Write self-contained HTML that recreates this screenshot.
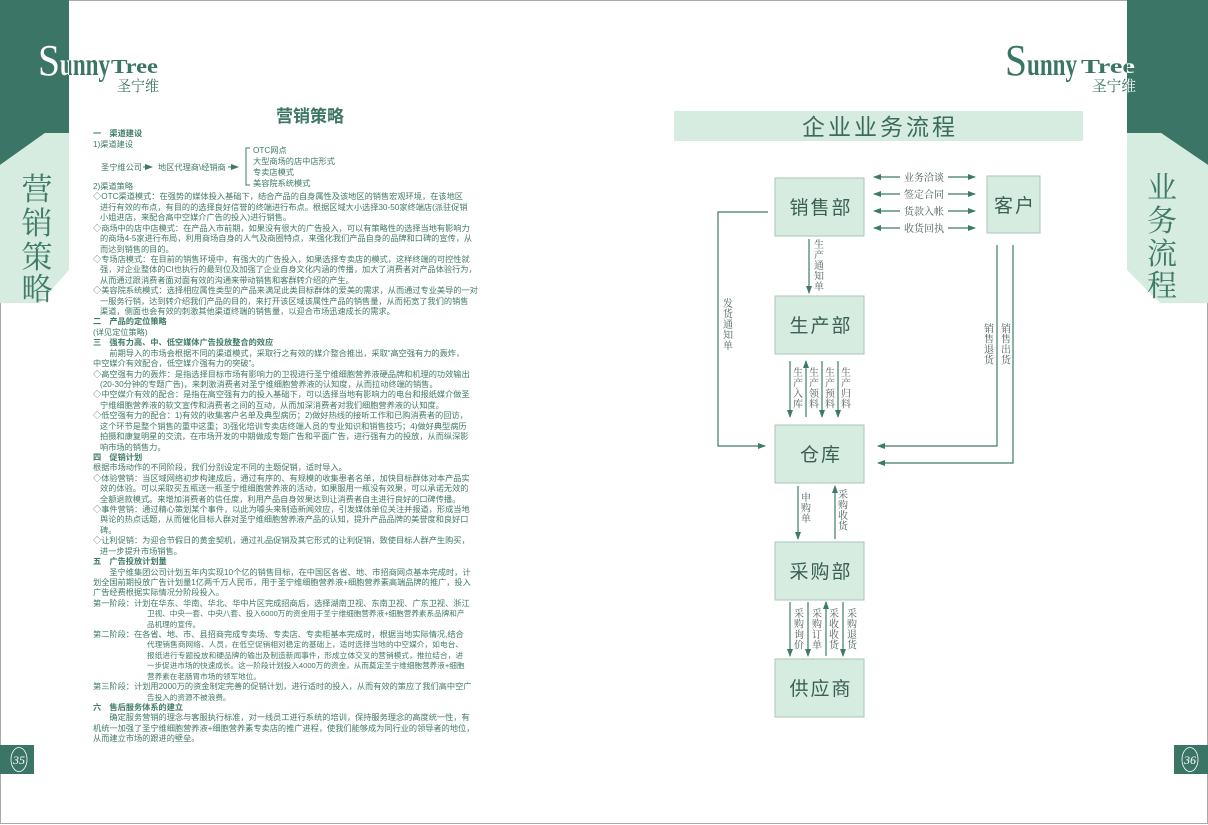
<!DOCTYPE html>
<html><head><meta charset="utf-8">
<style>
html,body{margin:0;padding:0;background:#fff;}
#pg{position:relative;width:1208px;height:825px;overflow:hidden;background:#fff;font-family:"Liberation Sans","Noto Sans CJK SC",sans-serif;}
.t{position:absolute;left:93px;width:370px;font-size:8.2px;line-height:10.42px;height:10.42px;color:#3f7a68;white-space:nowrap;}
.i{left:100px;width:363px;}
.s{left:147px;width:316px;font-size:7.6px;}
.j{text-align:justify;text-align-last:justify;}
.h{font-weight:bold;}
</style></head><body><div id="pg">
<svg width="1208" height="825" style="position:absolute;left:0;top:0" xmlns="http://www.w3.org/2000/svg">
<defs>
<marker id="a" markerWidth="8" markerHeight="8" refX="7" refY="4" orient="auto" markerUnits="userSpaceOnUse"><path d="M0,1 L8,4 L0,7 Z" fill="#3d7a6a"/></marker>
<clipPath id="cr"><rect x="1127" y="0" width="81" height="133"/></clipPath>
<clipPath id="cl"><rect x="0" y="0" width="69" height="133"/></clipPath>
<g id="lgL">
<text x="38" y="75" font-size="44" font-family="Liberation Serif,serif" textLength="22" lengthAdjust="spacingAndGlyphs">S</text>
<text x="60" y="75" font-size="32" font-weight="bold" font-family="Liberation Serif,serif" textLength="50" lengthAdjust="spacingAndGlyphs">unny</text>
<text x="111" y="73" font-size="20" font-weight="bold" font-family="Liberation Serif,serif" textLength="47" lengthAdjust="spacingAndGlyphs">Tree</text>
<text x="117" y="91" font-size="15" font-family="Noto Serif CJK SC,serif" textLength="42" lengthAdjust="spacingAndGlyphs">圣宁维</text>
</g>
<g id="lgR">
<text x="1005" y="75" font-size="44" font-family="Liberation Serif,serif" textLength="22" lengthAdjust="spacingAndGlyphs">S</text>
<text x="1027" y="75" font-size="32" font-weight="bold" font-family="Liberation Serif,serif" textLength="50" lengthAdjust="spacingAndGlyphs">unny</text>
<text x="1081" y="73" font-size="20" font-weight="bold" font-family="Liberation Serif,serif" textLength="54" lengthAdjust="spacingAndGlyphs">Tree</text>
<text x="1092" y="91" font-size="15" font-family="Noto Serif CJK SC,serif" textLength="44" lengthAdjust="spacingAndGlyphs">圣宁维</text>
</g>
</defs>
<rect x="0.5" y="0.5" width="1207" height="823" fill="none" stroke="#aaa"/>
<polygon points="0,0 69,0 69,133 45,133 0,165" fill="#3a7565"/>
<polygon points="0,165 45,133 69,133 69,270 40,303 0,303" fill="#d7ece1"/>
<text x="37" y="200" font-size="31" fill="#3f7a68" text-anchor="middle" font-family="Noto Serif CJK SC,serif">营</text>
<text x="37" y="234" font-size="31" fill="#3f7a68" text-anchor="middle" font-family="Noto Serif CJK SC,serif">销</text>
<text x="37" y="268" font-size="31" fill="#3f7a68" text-anchor="middle" font-family="Noto Serif CJK SC,serif">策</text>
<text x="37" y="300" font-size="31" fill="#3f7a68" text-anchor="middle" font-family="Noto Serif CJK SC,serif">略</text>
<polygon points="1127,0 1208,0 1208,165 1161,133 1127,133" fill="#3a7565"/>
<polygon points="1127,133 1161,133 1208,165 1208,303 1160,303 1127,270" fill="#d7ece1"/>
<text x="1162" y="198" font-size="30" fill="#3f7a68" text-anchor="middle" font-family="Noto Serif CJK SC,serif">业</text>
<text x="1162" y="231" font-size="30" fill="#3f7a68" text-anchor="middle" font-family="Noto Serif CJK SC,serif">务</text>
<text x="1162" y="264" font-size="30" fill="#3f7a68" text-anchor="middle" font-family="Noto Serif CJK SC,serif">流</text>
<text x="1162" y="296" font-size="30" fill="#3f7a68" text-anchor="middle" font-family="Noto Serif CJK SC,serif">程</text>
<use href="#lgL" fill="#3a7565"/>
<use href="#lgL" fill="#fff" clip-path="url(#cl)"/>
<use href="#lgR" fill="#3a7565"/>
<use href="#lgR" fill="#fff" clip-path="url(#cr)"/>
<text x="310" y="122" font-size="17" font-weight="bold" fill="#3a7565" text-anchor="middle">营销策略</text>
<rect x="674" y="111" width="409" height="30" fill="#d7ece1"/>
<text x="880" y="135" font-size="23" fill="#3a6b5d" text-anchor="middle" letter-spacing="3">企业业务流程</text>
<g font-size="8.2" fill="#3f7a68" font-family="Liberation Sans,Noto Sans CJK SC,sans-serif">
<text x="101" y="170">圣宁维公司</text>
<line x1="143" y1="167" x2="152" y2="167" stroke="#3f7a68" marker-end="url(#a)"/>
<text x="158" y="170">地区代理商\经销商</text>
<line x1="228" y1="167" x2="238" y2="167" stroke="#3f7a68" marker-end="url(#a)"/>
<path d="M250,148 L246,148 L246,185 L250,185" fill="none" stroke="#3f7a68"/>
<text x="253" y="153">OTC网点</text>
<text x="253" y="164">大型商场的店中店形式</text>
<text x="253" y="175">专卖店模式</text>
<text x="253" y="186">美容院系统模式</text>
</g>
<g fill="#d7ece1" stroke="#aac6b8" stroke-width="1">
<rect x="775" y="178" width="89" height="58"/>
<rect x="987" y="176" width="53" height="57"/>
<rect x="775" y="296" width="89" height="58"/>
<rect x="775" y="425" width="89" height="58"/>
<rect x="775" y="542" width="89" height="58"/>
<rect x="775" y="659" width="89" height="58"/>
</g>
<g font-size="19" fill="#3b5f55" text-anchor="middle" letter-spacing="2">
<text x="821" y="214">销售部</text>
<text x="1015" y="212">客户</text>
<text x="821" y="332">生产部</text>
<text x="821" y="461">仓库</text>
<text x="821" y="578">采购部</text>
<text x="821" y="695">供应商</text>
</g>
<g stroke="#3d7a6a" stroke-width="1.2" fill="none">
<line x1="900" y1="177" x2="874" y2="177" marker-end="url(#a)"/><line x1="948" y1="177" x2="975" y2="177" marker-end="url(#a)"/>
<line x1="900" y1="194" x2="874" y2="194" marker-end="url(#a)"/><line x1="948" y1="194" x2="975" y2="194" marker-end="url(#a)"/>
<line x1="900" y1="211" x2="874" y2="211" marker-end="url(#a)"/><line x1="948" y1="211" x2="975" y2="211" marker-end="url(#a)"/>
<line x1="900" y1="228" x2="874" y2="228" marker-end="url(#a)"/><line x1="948" y1="228" x2="975" y2="228" marker-end="url(#a)"/>
<line x1="809" y1="239" x2="809" y2="293" marker-end="url(#a)"/>
<polyline points="768,212 718,212 718,446 765,446" marker-end="url(#a)"/>
<polyline points="997,245 997,446 878,446" marker-end="url(#a)"/>
<polyline points="1013,245 1013,463 878,463" marker-end="url(#a)"/>
<line x1="790" y1="361" x2="790" y2="417" marker-end="url(#a)"/>
<line x1="806" y1="417" x2="806" y2="361" marker-end="url(#a)"/>
<line x1="822" y1="361" x2="822" y2="417" marker-end="url(#a)"/>
<line x1="838" y1="361" x2="838" y2="417" marker-end="url(#a)"/>
<line x1="798" y1="486" x2="798" y2="539" marker-end="url(#a)"/>
<line x1="835" y1="539" x2="835" y2="486" marker-end="url(#a)"/>
<line x1="790" y1="602" x2="790" y2="656" marker-end="url(#a)"/>
<line x1="808" y1="602" x2="808" y2="656" marker-end="url(#a)"/>
<line x1="826" y1="656" x2="826" y2="602" marker-end="url(#a)"/>
<line x1="843" y1="602" x2="843" y2="656" marker-end="url(#a)"/>
</g>
<g font-size="10" fill="#4a5f58" font-family="Noto Serif CJK SC,serif">
<text x="924" y="181" text-anchor="middle">业务洽谈</text>
<text x="924" y="198" text-anchor="middle">签定合同</text>
<text x="924" y="215" text-anchor="middle">货款入帐</text>
<text x="924" y="232" text-anchor="middle">收货回执</text>
</g>
<g font-size="10" fill="#4a5f58" font-family="Noto Serif CJK SC,serif" style="writing-mode:vertical-rl" letter-spacing="0.5">
<text x="819" y="239">生产通知单</text>
<text x="728" y="298">发货通知单</text>
<text x="989" y="323">销售退货</text>
<text x="1006" y="323">销售出货</text>
<text x="798" y="367">生产入库</text>
<text x="814" y="367">生产领料</text>
<text x="830" y="367">生产预料</text>
<text x="846" y="367">生产归料</text>
<text x="806" y="492">申购单</text>
<text x="843" y="489">采购收货</text>
<text x="799" y="608">采购询价</text>
<text x="817" y="608">采购订单</text>
<text x="834" y="608">采收收货</text>
<text x="852" y="608">采购退货</text>
</g>
<rect x="0" y="745" width="34" height="29" fill="#3a7565"/>
<ellipse cx="19" cy="759.5" rx="8" ry="12" fill="none" stroke="#fff" stroke-width="0.8"/>
<text x="19" y="764" font-size="12" fill="#fff" text-anchor="middle" font-style="italic" font-family="Liberation Serif,serif">35</text>
<rect x="1174" y="745" width="34" height="29" fill="#3a7565"/>
<ellipse cx="1190" cy="759.5" rx="8" ry="12" fill="none" stroke="#fff" stroke-width="0.8"/>
<text x="1190" y="764" font-size="12" fill="#fff" text-anchor="middle" font-style="italic" font-family="Liberation Serif,serif">36</text>
</svg>

<div class="t h" style="top:129px">一　渠道建设</div>
<div class="t" style="top:140px">1)渠道建设</div>
<div style="position:absolute;left:0;top:182px">
<div class="t" style="top:0px">2)渠道策略</div>
<div class="t j" style="top:10.42px">◇OTC渠道模式：在强势的媒体投入基础下，结合产品的自身属性及该地区的销售宏观环境，在该地区</div>
<div class="t i j" style="top:20.84px">进行有效的布点，有目的的选择良好信誉的终端进行布点。根据区域大小选择30-50家终端店(派驻促销</div>
<div class="t i" style="top:31.26px">小姐进店，来配合高中空媒介广告的投入)进行销售。</div>
<div class="t j" style="top:41.68px">◇商场中的店中店模式：在产品入市前期，如果没有很大的广告投入，可以有策略性的选择当地有影响力</div>
<div class="t i j" style="top:52.1px">的商场4-5家进行布局，利用商场自身的人气及商圈特点，来强化我们产品自身的品牌和口碑的宣传，从</div>
<div class="t i" style="top:62.52px">而达到销售的目的。</div>
<div class="t j" style="top:72.94px">◇专场店模式：在目前的销售环境中，有强大的广告投入，如果选择专卖店的模式，这样终端的可控性就</div>
<div class="t i j" style="top:83.36px">强，对企业整体的CI也执行的最到位及加强了企业自身文化内涵的传播，加大了消费者对产品体验行为，</div>
<div class="t i" style="top:93.78px">从而通过跟消费者面对面有效的沟通来带动销售和客群转介绍的产生。</div>
<div class="t j" style="top:104.2px">◇美容院系统模式：选择相应属性类型的产品来满足此类目标群体的爱美的需求，从而通过专业美导的一对</div>
<div class="t i j" style="top:114.62px">一服务行销，达到转介绍我们产品的目的，来打开该区域该属性产品的销售量，从而拓宽了我们的销售</div>
<div class="t i" style="top:125.04px">渠道，侧面也会有效的刺激其他渠道终端的销售量，以迎合市场迅速成长的需求。</div>
<div class="t h" style="top:135.46px">二　产品的定位策略</div>
<div class="t" style="top:145.88px">(详见定位策略)</div>
<div class="t h" style="top:156.3px">三　强有力高、中、低空媒体广告投放整合的效应</div>
<div class="t j" style="top:166.72px">　　前期导入的市场会根据不同的渠道模式，采取行之有效的媒介整合推出，采取“高空强有力的轰炸，</div>
<div class="t" style="top:177.14px">中空媒介有效配合，低空媒介强有力的突破”。</div>
<div class="t j" style="top:187.56px">◇高空强有力的轰炸：是指选择目标市场有影响力的卫视进行圣宁维细胞营养液硬品牌和机理的功效输出</div>
<div class="t i" style="top:197.98px">(20-30分钟的专题广告)，来刺激消费者对圣宁维细胞营养液的认知度，从而拉动终端的销售。</div>
<div class="t j" style="top:208.4px">◇中空媒介有效的配合：是指在高空强有力的投入基础下，可以选择当地有影响力的电台和报纸媒介做圣</div>
<div class="t i" style="top:218.82px">宁维细胞营养液的软文宣传和消费者之间的互动，从而加深消费者对我们细胞营养液的认知度。</div>
<div class="t j" style="top:229.24px">◇低空强有力的配合：1)有效的收集客户名单及典型病历；2)做好热线的接听工作和已购消费者的回访，</div>
<div class="t i j" style="top:239.66px">这个环节是整个销售的重中这重；3)强化培训专卖店终端人员的专业知识和销售技巧；4)做好典型病历</div>
<div class="t i j" style="top:250.08px">拍摄和康复明星的交流，在市场开发的中期做成专题广告和平面广告，进行强有力的投放，从而纵深影</div>
<div class="t i" style="top:260.5px">响市场的销售力。</div>
<div class="t h" style="top:270.92px">四　促销计划</div>
<div class="t" style="top:281.34px">根据市场动作的不同阶段，我们分别设定不同的主题促销，适时导入。</div>
<div class="t j" style="top:291.76px">◇体验营销：当区域网络初步构建成后，通过有序的、有规模的收集患者名单，加快目标群体对本产品实</div>
<div class="t i j" style="top:302.18px">效的体验。可以采取买五瓶送一瓶圣宁维细胞营养液的活动，如果服用一瓶没有效果，可以承诺无效的</div>
<div class="t i" style="top:312.6px">全额退款模式。来增加消费者的信任度，利用产品自身效果达到让消费者自主进行良好的口碑传播。</div>
<div class="t j" style="top:323.02px">◇事件营销：通过精心策划某个事件，以此为噱头来制造新闻效应，引发媒体单位关注并报道，形成当地</div>
<div class="t i j" style="top:333.44px">舆论的热点话题，从而催化目标人群对圣宁维细胞营养液产品的认知，提升产品品牌的美誉度和良好口</div>
<div class="t i" style="top:343.86px">碑。</div>
<div class="t j" style="top:354.28px">◇让利促销：为迎合节假日的黄金契机，通过礼品促销及其它形式的让利促销，致使目标人群产生购买，</div>
<div class="t i" style="top:364.7px">进一步提升市场销售。</div>
<div class="t h" style="top:375.12px">五　广告投放计划量</div>
<div class="t j" style="top:385.54px">　　圣宁维集团公司计划五年内实现10个亿的销售目标，在中国区各省、地、市招商网点基本完成时，计</div>
<div class="t j" style="top:395.96px">划全国前期投放广告计划量1亿两千万人民币，用于圣宁维细胞营养液+细胞营养素高端品牌的推广，投入</div>
<div class="t" style="top:406.38px">广告经费根据实际情况分阶段投入。</div>
<div class="t j" style="top:416.8px">第一阶段：计划在华东、华南、华北、华中片区完成招商后，选择湖南卫视、东南卫视、广东卫视、浙江</div>
<div class="t s j" style="top:427.22px">卫视、中央一套、中央八套、投入6000万的资金用于圣宁维细胞营养液+细胞营养素系品牌和产</div>
<div class="t s" style="top:437.64px">品机理的宣传。</div>
<div class="t j" style="top:448.06px">第二阶段：在各省、地、市、县招商完成专卖场、专卖店、专卖柜基本完成时，根据当地实际情况,结合</div>
<div class="t s j" style="top:458.48px">代理销售商网络、人员，在低空促销相对稳定的基础上，适时选择当地的中空媒介，如电台、</div>
<div class="t s j" style="top:468.9px">报纸进行专题投放和硬品牌的输出及制造新闻事件，形成立体交叉的营销模式，推拉结合，进</div>
<div class="t s j" style="top:479.32px">一步促进市场的快速成长。这一阶段计划投入4000万的资金，从而奠定圣宁维细胞营养液+细胞</div>
<div class="t s" style="top:489.74px">营养素在老肠胃市场的领军地位。</div>
<div class="t j" style="top:500.16px">第三阶段：计划用2000万的资金制定完善的促销计划，进行适时的投入，从而有效的策应了我们高中空广</div>
<div class="t s" style="top:510.58px">告投入的资源不被浪费。</div>
<div class="t h" style="top:521px">六　售后服务体系的建立</div>
<div class="t j" style="top:531.42px">　　确定服务营销的理念与客服执行标准，对一线员工进行系统的培训，保持服务理念的高度统一性，有</div>
<div class="t j" style="top:541.84px">机统一加强了圣宁维细胞营养液+细胞营养素专卖店的推广进程，使我们能够成为同行业的领导者的地位，</div>
<div class="t" style="top:552.26px">从而建立市场的跟进的壁垒。</div>
</div>
</div></body></html>
